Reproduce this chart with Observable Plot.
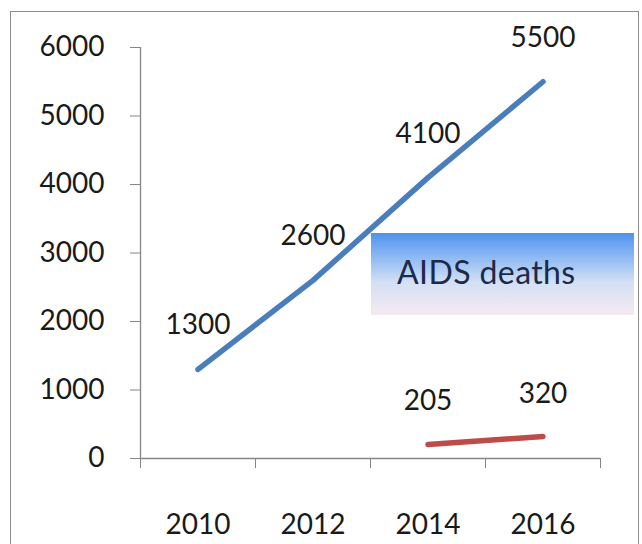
<!DOCTYPE html>
<html>
<head>
<meta charset="utf-8">
<script src="https://cdn.jsdelivr.net/npm/d3@7"></script>
<script src="https://cdn.jsdelivr.net/npm/@observablehq/plot@0.6"></script>
<style>
  html, body { margin: 0; padding: 0; background: #fff; }
  #wrap { position: relative; width: 642px; height: 544px; overflow: hidden; font-family: Lato, "Open Sans", sans-serif; }
  #frame { position: absolute; left: 10px; top: 11px; width: 629px; height: 560px; border: 1.5px solid #8c8c8c; box-sizing: border-box; pointer-events: none; }
  #note { position: absolute; left: 371px; top: 233px; width: 263px; height: 82px;
    background: linear-gradient(to bottom, #4f92ee 0%, #8fbaf2 30%, #d3e0f4 60%, #f6e9f1 100%);
    color: #1c2a4a; font-size: 32px; letter-spacing: 0.4px; box-sizing: border-box; padding-left: 26px; padding-top: 19px; font-family: Lato, sans-serif; }
</style>
</head>
<body>
<div id="wrap">
  <div id="chart"></div>
  <div id="note">AIDS deaths</div>
  <div id="frame"></div>
</div>
<script>
const years = [2010, 2012, 2014, 2016];
const hivValues = [1300, 2600, 4100, 5500];
const aidsYears = [2014, 2016];
const aidsValues = [205, 320];
const yTicks = [0, 1000, 2000, 3000, 4000, 5000, 6000];
const xBoundaries = [2009, 2011, 2013, 2015, 2017];

const hiv = years.map((y, i) => ({year: y, value: hivValues[i]}));
const aids = aidsYears.map((y, i) => ({year: y, value: aidsValues[i]}));

const chart = Plot.plot({
  width: 642,
  height: 544,
  marginLeft: 140,
  marginRight: 42,
  marginTop: 47,
  marginBottom: 86,
  style: {fontFamily: "Lato, 'Open Sans', sans-serif", fontSize: "28px", color: "#1a1a1a", background: "transparent"},
  x: {domain: [2009, 2017]},
  y: {domain: [0, 6000]},
  marks: [
    Plot.ruleX([2009], {stroke: "#868686", strokeWidth: 1.3}),
    Plot.ruleY([0], {stroke: "#868686", strokeWidth: 1.3}),
    Plot.axisY({ticks: yTicks, tickSize: 10, tickPadding: 26, stroke: "#868686", label: null, tickFormat: d => String(d), fontSize: 28}),
    Plot.axisX({ticks: xBoundaries, tickSize: 10, tickFormat: () => "", stroke: "#868686", label: null}),
    Plot.axisX({ticks: years, tickSize: 0, tickPadding: 56, tickFormat: d => String(d), label: null, fontSize: 28}),
    Plot.line(hiv, {x: "year", y: "value", stroke: "#4a7ebb", strokeWidth: 5.5}),
    Plot.line(aids, {x: "year", y: "value", stroke: "#be4b48", strokeWidth: 5.5}),
    Plot.text(hiv, {x: "year", y: "value", text: d => String(d.value), dy: -44, fontSize: 28, fill: "#1a1a1a"}),
    Plot.text(aids, {x: "year", y: "value", text: d => String(d.value), dy: -43, fontSize: 28, fill: "#1a1a1a"})
  ]
});
document.getElementById("chart").appendChild(chart);
</script>
</body>
</html>
